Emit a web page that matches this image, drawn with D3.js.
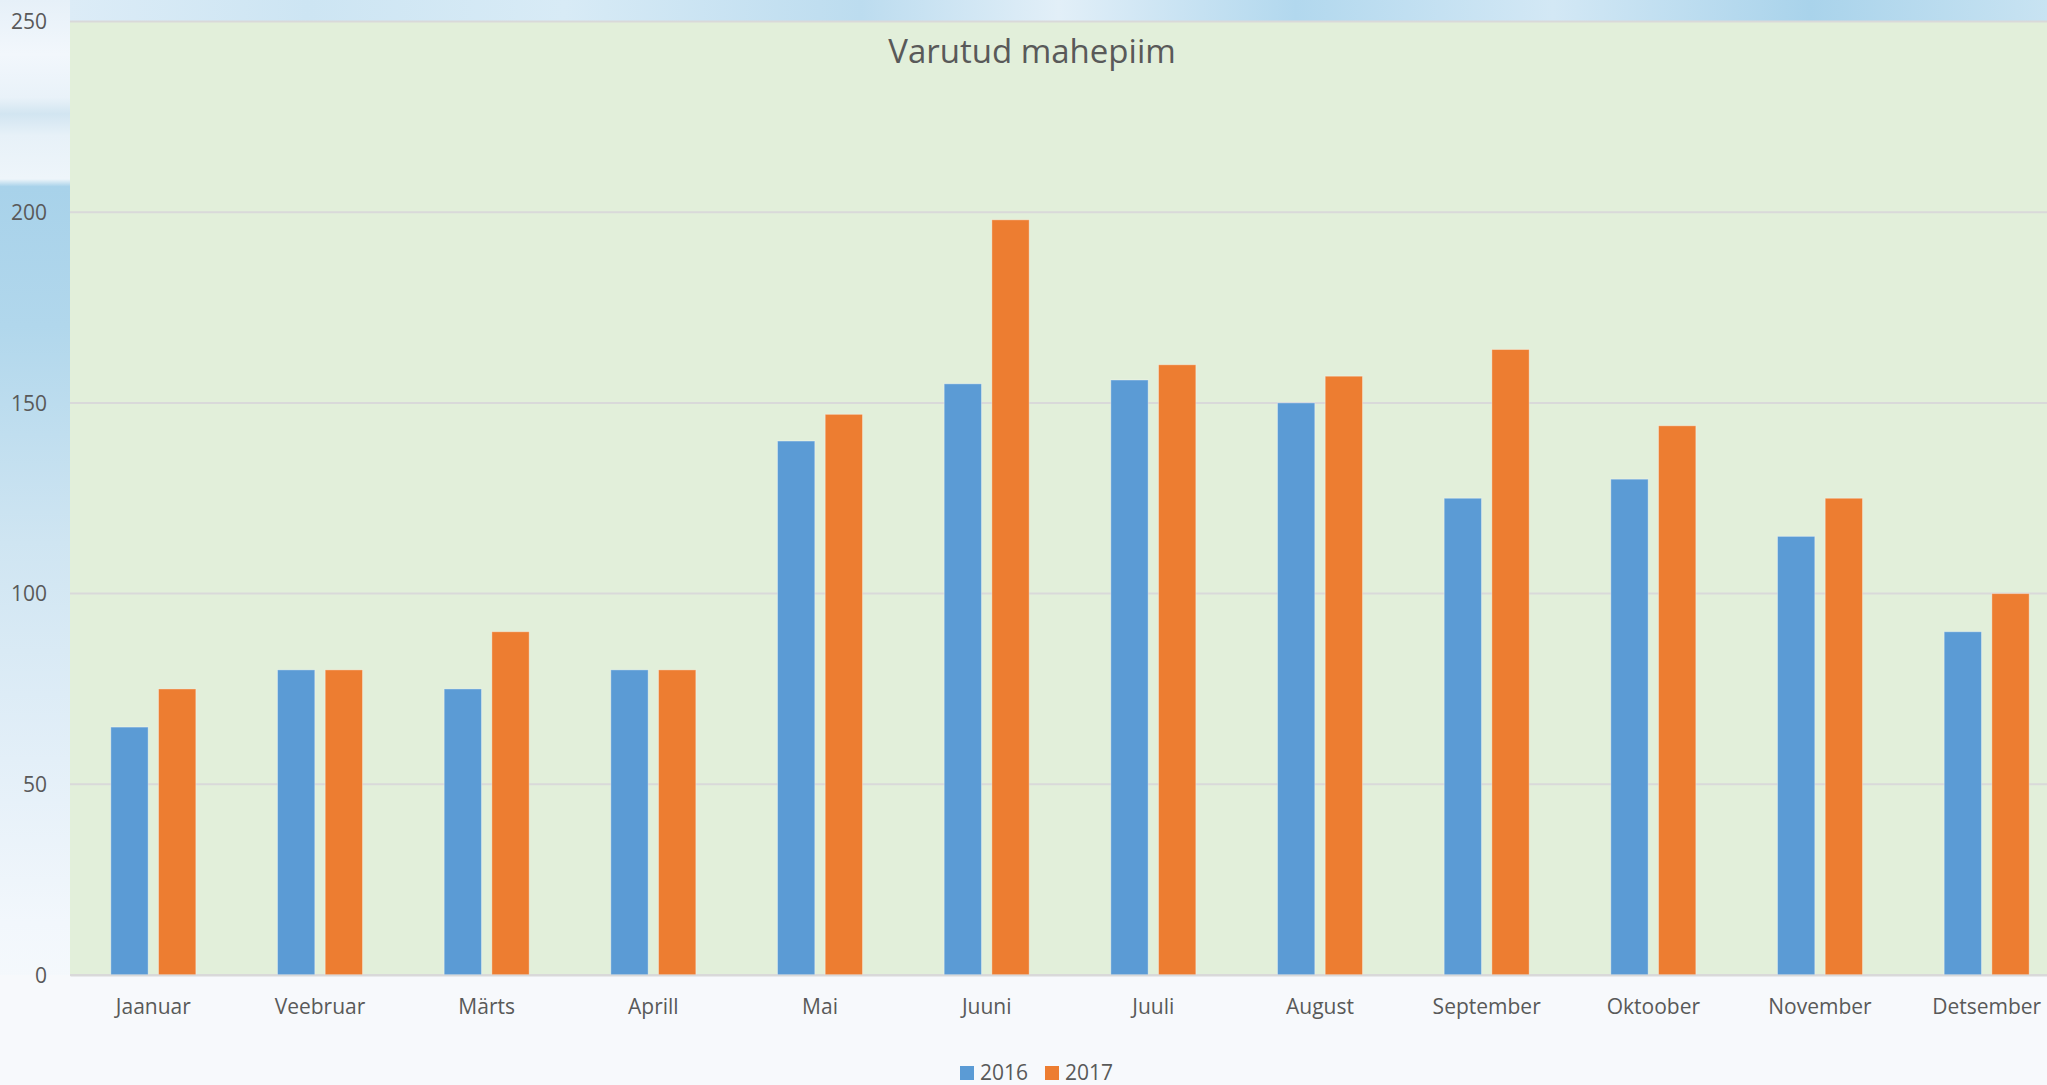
<!DOCTYPE html>
<html>
<head>
<meta charset="utf-8">
<script src="https://cdn.jsdelivr.net/npm/d3@7"></script>
<style>
  body { margin: 0; overflow: hidden; background: #f7f9fc; }
  text { font-family: "Open Sans", sans-serif; fill: #595959; }
</style>
</head>
<body>
<div id="chart"></div>
<script>
// chart data
const months = ['Jaanuar', 'Veebruar', 'Märts', 'Aprill', 'Mai', 'Juuni', 'Juuli', 'August', 'September', 'Oktoober', 'November', 'Detsember'];
const series = ['2016', '2017'];
const values2016 = [65, 80, 75, 80, 140, 155, 156, 150, 125, 130, 115, 90];
const values2017 = [75, 80, 90, 80, 147, 198, 160, 157, 164, 144, 125, 100];
const yTicks = [0, 50, 100, 150, 200, 250];
const title = 'Varutud mahepiim';

const colors = { '2016': '#5b9bd5', '2017': '#ed7d31' };

const width = 2047;
const height = 1085;
// plot area (runs past the right edge of the window, like the original)
const plot = { left: 70, right: 2070, top: 21.5, bottom: 975 };

const svg = d3.select('#chart')
  .append('svg')
  .attr('width', width)
  .attr('height', height);

const defs = svg.append('defs');

// background sky - left column and bottom
const bgGrad = defs.append('linearGradient')
  .attr('id', 'bg').attr('x1', 0).attr('y1', 0).attr('x2', 0).attr('y2', 1);
[[0, '#e6f0f8'], [0.05, '#f2f7fc'], [0.09, '#e9f2f9'], [0.105, '#d2e5f1'], [0.125, '#e7f1f8'],
 [0.165, '#eef5fa'], [0.172, '#a8d2ea'], [0.3, '#b1d7ec'], [0.5, '#cfe5f2'], [0.7, '#e3eff8'],
 [0.85, '#f2f7fc'], [1, '#f9fbfd']]
  .forEach(s => bgGrad.append('stop').attr('offset', s[0]).attr('stop-color', s[1]));

// background sky - strip above the plot
const topGrad = defs.append('linearGradient')
  .attr('id', 'topsky').attr('x1', 0).attr('y1', 0).attr('x2', 1).attr('y2', 0);
[[0, '#dcecf7'], [0.12, '#cde5f3'], [0.25, '#d8ebf6'], [0.4, '#bcdcef'], [0.5, '#e2eff8'],
 [0.62, '#b2d8ee'], [0.75, '#d3e8f5'], [0.88, '#a9d3eb'], [1, '#c8e3f2']]
  .forEach(s => topGrad.append('stop').attr('offset', s[0]).attr('stop-color', s[1]));

svg.append('rect')
  .attr('width', width).attr('height', height)
  .attr('fill', 'url(#bg)');

svg.append('rect')
  .attr('x', plot.left).attr('y', 0)
  .attr('width', width - plot.left).attr('height', plot.top)
  .attr('fill', 'url(#topsky)');

// below the plot is almost white
svg.append('rect')
  .attr('x', 0).attr('y', plot.bottom)
  .attr('width', width).attr('height', height - plot.bottom)
  .attr('fill', '#f7f9fc');

// plot area fill
svg.append('rect')
  .attr('x', plot.left).attr('y', plot.top)
  .attr('width', plot.right - plot.left).attr('height', plot.bottom - plot.top)
  .attr('fill', '#e2efda');

// X scale for the month groups
const x0 = d3.scaleBand()
  .domain(months)
  .range([plot.left, plot.right])
  .padding(0);

// X scale inside a group
const x1 = d3.scaleBand()
  .domain(series)
  .range([0, x0.bandwidth()])
  .paddingInner(0.218)
  .paddingOuter(0.856);

// Y scale
const y = d3.scaleLinear()
  .domain([0, 250])
  .range([plot.bottom, plot.top]);

// gridlines
svg.append('g')
  .selectAll('line')
  .data(yTicks)
  .enter().append('line')
  .attr('x1', plot.left)
  .attr('x2', plot.right)
  .attr('y1', d => y(d))
  .attr('y2', d => y(d))
  .attr('stroke', '#d9d9d9')
  .attr('stroke-width', 2);

// Y axis labels
const yAxis = svg.append('g')
  .attr('transform', 'translate(' + (plot.left - 23) + ',0)')
  .call(d3.axisLeft(y).tickValues(yTicks).tickSize(0).tickPadding(0));
yAxis.select('.domain').remove();
yAxis.selectAll('text')
  .style('font-size', '21px')
  .attr('fill', '#595959')
  .attr('dy', '0.35em');

// bars
const rows = months.map((m, i) => ({ month: m, '2016': values2016[i], '2017': values2017[i] }));

const groups = svg.append('g')
  .selectAll('g')
  .data(rows)
  .enter().append('g')
  .attr('transform', d => 'translate(' + x0(d.month) + ',0)');

groups.selectAll('rect')
  .data(d => series.map(s => ({ key: s, value: d[s] })))
  .enter().append('rect')
  .attr('x', d => x1(d.key))
  .attr('y', d => y(d.value))
  .attr('width', x1.bandwidth())
  .attr('height', d => y(0) - y(d.value))
  .attr('fill', d => colors[d.key])
  .attr('stroke', 'rgba(255,255,255,0.35)')
  .attr('stroke-width', 1);

// X axis baseline + labels
const xAxis = svg.append('g')
  .attr('transform', 'translate(0,' + plot.bottom + ')')
  .call(d3.axisBottom(x0).tickSize(0).tickPadding(0));
xAxis.select('.domain')
  .attr('stroke', '#d9d9d9')
  .attr('stroke-width', 2);
xAxis.selectAll('text')
  .style('font-size', '21px')
  .attr('fill', '#595959')
  .attr('dy', null)
  .attr('y', 39);

// title
svg.append('text')
  .attr('x', 1032)
  .attr('y', 63)
  .attr('text-anchor', 'middle')
  .style('font-size', '33px')
  .text(title);

// legend
const legend = svg.append('g')
  .selectAll('g')
  .data(series)
  .enter().append('g')
  .attr('transform', (d, i) => 'translate(' + (960 + i * 85) + ',1066)');

legend.append('rect')
  .attr('width', 14)
  .attr('height', 14)
  .attr('fill', d => colors[d]);

legend.append('text')
  .attr('x', 20)
  .attr('y', 14)
  .style('font-size', '21px')
  .text(d => d);
</script>
</body>
</html>
